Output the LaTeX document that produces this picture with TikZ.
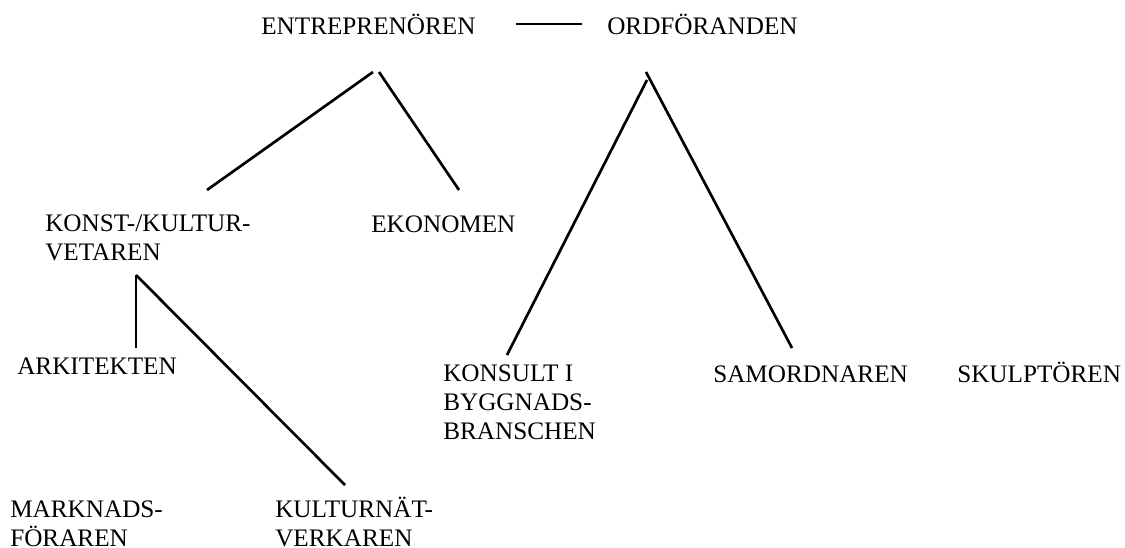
\documentclass[tikz,border=0pt]{standalone}
\usepackage{fontspec}
\setmainfont{Liberation Serif}
\begin{document}
\begin{tikzpicture}[x=0.75pt,y=-0.75pt,
  lbl/.style={anchor=base west,inner sep=0pt,align=left,
    font=\fontsize{18.9}{21.4}\selectfont},
  link/.style={line width=2pt,line cap=butt}]
\clip (0,0) rectangle (1125,547);
\fill[white] (0,0) rectangle (1125,547);
% text nodes (base anchor = baseline of the last line)
\node[lbl] (entr) at (261,34) {ENTREPRENÖREN};
\node[lbl] (ordf) at (607,34) {ORDFÖRANDEN};
\node[lbl] (konst) at (45,260.5) {KONST-/KULTUR-\\VETAREN};
\node[lbl] (ekon) at (371,232) {EKONOMEN};
\node[lbl] (arki) at (17,374) {ARKITEKTEN};
\node[lbl] (kons) at (443,439) {KONSULT I\\BYGGNADS-\\BRANSCHEN};
\node[lbl] (samo) at (713,382) {SAMORDNAREN};
\node[lbl] (skul) at (957,382) {SKULPTÖREN};
\node[lbl] (mark) at (10,546.5) {MARKNADS-\\FÖRAREN};
\node[lbl] (kult) at (275,546.5) {KULTURNÄT-\\VERKAREN};
% connector end points
\coordinate (dashA) at (516,24);
\coordinate (dashB) at (582,24);
\coordinate (eL) at (373,72);
\coordinate (eR) at (379,72);
\coordinate (konstTop) at (207,190);
\coordinate (ekonTop) at (459,190);
\coordinate (oL) at (647,80);
\coordinate (oR) at (646,72);
\coordinate (konsTop) at (507,355);
\coordinate (samoTop) at (792,348);
\coordinate (vet) at (136,275);
\coordinate (arkiTop) at (136,348);
\coordinate (kultTop) at (345,485);
% connectors
\draw[link] (dashA) -- (dashB);
\draw[link] (eL) -- (konstTop);
\draw[link] (eR) -- (ekonTop);
\draw[link] (oL) -- (konsTop);
\draw[link] (oR) -- (samoTop);
\draw[link] (vet) -- (arkiTop);
\draw[link] (vet) -- (kultTop);
\end{tikzpicture}
\end{document}
